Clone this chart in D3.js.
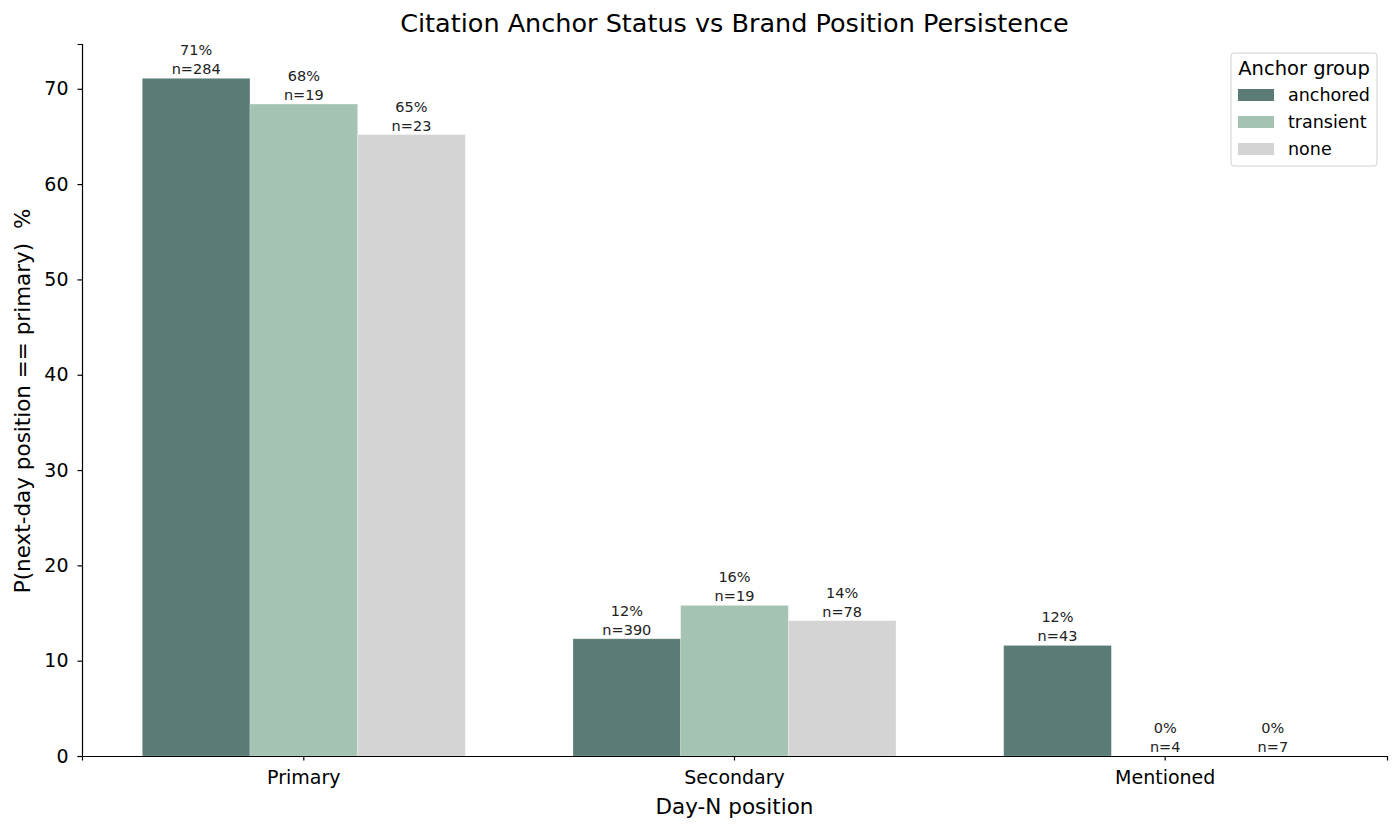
<!DOCTYPE html>
<html>
<head>
<meta charset="utf-8">
<script src="https://cdn.jsdelivr.net/npm/d3@7"></script>
<style>
  body { margin: 0; background: #fff; }
  text { font-family: "DejaVu Sans", sans-serif; fill: #000; }
  .barlab { fill: #222; }
</style>
</head>
<body>
<svg id="chart"></svg>
<script>
// data
var positions = ["Primary", "Secondary", "Mentioned"];
var groups = ["anchored", "transient", "none"];
var anchoredPct = [71.1, 12.3, 11.6];
var transientPct = [68.4, 15.8, 0];
var nonePct = [65.2, 14.2, 0];
var anchoredN = [284, 390, 43];
var transientN = [19, 19, 4];
var noneN = [23, 78, 7];
var yTicks = [0, 10, 20, 30, 40, 50, 60, 70];
var colors = ["#5b7b77", "#a5c3b3", "#d4d4d4"];

var pctBy = {anchored: anchoredPct, transient: transientPct, none: nonePct};
var nBy = {anchored: anchoredN, transient: transientN, none: noneN};

var rows = [];
positions.forEach(function (p, i) {
  groups.forEach(function (g, j) {
    rows.push({pos: p, gi: j, group: g, pct: pctBy[g][i], n: nBy[g][i]});
  });
});

var W = 1400, H = 832;
var margin = {top: 44, right: 13, bottom: 76, left: 82};
var width = W - margin.left - margin.right,
    height = H - margin.top - margin.bottom;

var svg = d3.select("#chart").attr("width", W).attr("height", H);
var g = svg.append("g").attr("transform", "translate(" + margin.left + "," + margin.top + ")");

var x = d3.scaleBand().domain(positions).range([0, width]).paddingInner(0.25).paddingOuter(0.14);
var xInner = d3.scaleBand().domain(groups).range([0, x.bandwidth()]);
var y = d3.scaleLinear().domain([0, 74.7]).range([height, 0]);
var color = d3.scaleOrdinal().domain(groups).range(colors);

// bars
g.selectAll(".bar")
  .data(rows)
  .enter()
  .append("rect")
  .attr("class", "bar")
  .attr("x", function (d) { return x(d.pos) + xInner(d.group); })
  .attr("y", function (d) { return y(d.pct); })
  .attr("width", xInner.bandwidth())
  .attr("height", function (d) { return height - y(d.pct); })
  .attr("fill", function (d) { return color(d.group); })
  .attr("stroke", "#ffffff")
  .attr("stroke-opacity", 0.3)
  .attr("stroke-width", 0.8);

// labels above bars
var cx = function (d) { return x(d.pos) + xInner(d.group) + xInner.bandwidth() / 2; };
var lab = g.selectAll(".barlab")
  .data(rows)
  .enter()
  .append("text")
  .attr("class", "barlab")
  .attr("text-anchor", "middle")
  .style("font-size", "14.5px");
lab.append("tspan")
  .attr("x", cx)
  .attr("y", function (d) { return y(d.pct) - 23; })
  .text(function (d) { return Math.round(d.pct) + "%"; });
lab.append("tspan")
  .attr("x", cx)
  .attr("y", function (d) { return y(d.pct) - 4; })
  .text(function (d) { return "n=" + d.n; });

// axes
var xAxis = g.append("g")
  .attr("transform", "translate(0," + height + ")")
  .call(d3.axisBottom(x).tickSizeOuter(0).tickSize(4.5).tickPadding(10));
var yAxis = g.append("g")
  .call(d3.axisLeft(y).tickValues(yTicks).tickSizeOuter(0).tickSize(4.5).tickPadding(9));
[xAxis, yAxis].forEach(function (a) {
  a.selectAll("text").style("font-size", "19px").attr("fill", "#000");
  a.selectAll("path, line").attr("stroke", "#000").attr("stroke-width", 1.2);
});

// titles
svg.append("text")
  .attr("x", margin.left + width / 2)
  .attr("y", 32)
  .attr("text-anchor", "middle")
  .style("font-size", "25.5px")
  .text("Citation Anchor Status vs Brand Position Persistence");

svg.append("text")
  .attr("x", margin.left + width / 2)
  .attr("y", 814)
  .attr("text-anchor", "middle")
  .style("font-size", "21.5px")
  .text("Day-N position");

svg.append("text")
  .attr("transform", "translate(30," + (margin.top + height / 2 + 1) + ") rotate(-90)")
  .attr("text-anchor", "middle")
  .style("font-size", "21.5px")
  .style("white-space", "pre")
  .text("P(next-day position == primary)  %");

// legend
var leg = svg.append("g").attr("transform", "translate(1231,53)");
leg.append("rect")
  .attr("width", 146).attr("height", 113)
  .attr("rx", 3)
  .attr("fill", "#fff")
  .attr("stroke", "#d0d0d0");
leg.append("text")
  .attr("x", 73).attr("y", 22)
  .attr("text-anchor", "middle")
  .style("font-size", "19.5px")
  .text("Anchor group");
var item = leg.selectAll(".item")
  .data(groups)
  .enter()
  .append("g")
  .attr("transform", function (d, i) { return "translate(7," + (36 + i * 27) + ")"; });
item.append("rect")
  .attr("width", 36).attr("height", 12)
  .attr("fill", function (d) { return color(d); });
item.append("text")
  .attr("x", 50).attr("y", 12)
  .style("font-size", "17.5px")
  .text(function (d) { return d; });
</script>
</body>
</html>
